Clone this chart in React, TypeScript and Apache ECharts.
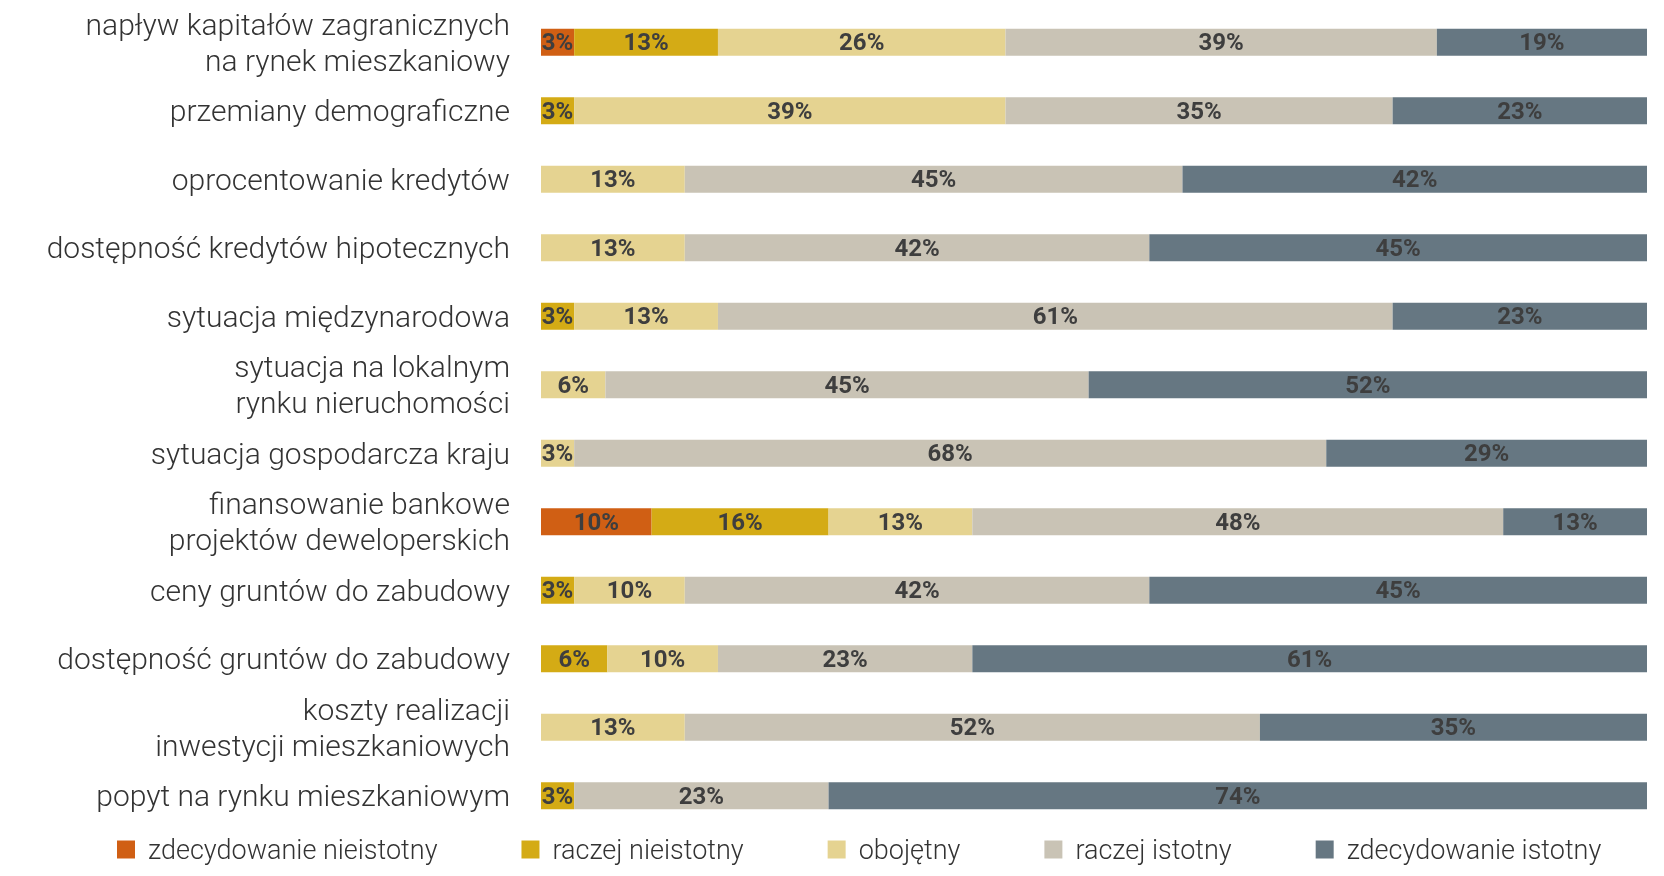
import React, { useEffect, useRef } from "react";
import * as echarts from "echarts";

const categories = [
  "napływ kapitałów zagranicznych\nna rynek mieszkaniowy",
  "przemiany demograficzne",
  "oprocentowanie kredytów",
  "dostępność kredytów hipotecznych",
  "sytuacja międzynarodowa",
  "sytuacja na lokalnym\nrynku nieruchomości",
  "sytuacja gospodarcza kraju",
  "finansowanie bankowe\nprojektów deweloperskich",
  "ceny gruntów do zabudowy",
  "dostępność gruntów do zabudowy",
  "koszty realizacji\ninwestycji mieszkaniowych",
  "popyt na rynku mieszkaniowym",
];

const seriesNames = [
  "zdecydowanie nieistotny",
  "raczej nieistotny",
  "obojętny",
  "raczej istotny",
  "zdecydowanie istotny",
];

const zdecydowanieNieistotny = [3, 0, 0, 0, 0, 0, 0, 10, 0, 0, 0, 0];
const raczejNieistotny = [13, 3, 0, 0, 3, 0, 0, 16, 3, 6, 0, 3];
const obojetny = [26, 39, 13, 13, 13, 6, 3, 13, 10, 10, 13, 0];
const raczejIstotny = [39, 35, 45, 42, 61, 45, 68, 48, 42, 23, 52, 23];
const zdecydowanieIstotny = [19, 23, 42, 45, 23, 52, 29, 13, 45, 61, 35, 74];

const seriesValues = [
  zdecydowanieNieistotny,
  raczejNieistotny,
  obojetny,
  raczejIstotny,
  zdecydowanieIstotny,
];

const colors = ["#D05F14", "#D4AB15", "#E5D391", "#C9C3B5", "#667782"];

export default function App() {
  const ref = useRef<HTMLDivElement>(null);

  useEffect(() => {
    if (!ref.current) return;
    const chart = echarts.init(ref.current, undefined, { renderer: "svg" });
    const totals = categories.map((_, i) =>
      seriesValues.reduce((s, arr) => s + arr[i], 0)
    );
    const series = seriesNames.map((name, si) => ({
      name,
      type: "bar",
      stack: "total",
      barWidth: 27,
      itemStyle: { color: colors[si] },
      label: {
        show: true,
        position: "inside",
        color: "#3e3e3e",
        fontFamily: "'Liberation Sans Narrow', Roboto, sans-serif",
        fontWeight: "bold",
        fontSize: 24,
        formatter: (p: any) => (p.data.raw > 0 ? p.data.raw + "%" : ""),
      },
      data: seriesValues[si].map((v, i) => ({
        value: (v / totals[i]) * 100,
        raw: v,
      })),
    }));

    chart.setOption({
      animation: false,
      color: colors,
      grid: { left: 541, right: 17, top: 8, bottom: 46, containLabel: false },
      xAxis: {
        type: "value",
        min: 0,
        max: 100,
        show: false,
      },
      yAxis: {
        type: "category",
        inverse: true,
        data: categories,
        axisLine: { show: false },
        axisTick: { show: false },
        axisLabel: {
          margin: 31,
          color: "#333333",
          fontFamily: "Roboto, sans-serif",
          fontWeight: 300,
          fontSize: 30,
          lineHeight: 36,
          align: "right",
        },
      },
      legend: {
        bottom: 8,
        left: 112,
        itemWidth: 18,
        itemHeight: 18,
        itemGap: 84,
        icon: "rect",
        textStyle: {
          color: "#333333",
          fontFamily: "Roboto, sans-serif",
          fontWeight: 300,
          fontSize: 27,
          padding: [0, 0, 0, 8],
        },
        data: seriesNames,
      },
      series,
    });

    return () => chart.dispose();
  }, []);

  return (
    <div
      ref={ref}
      style={{ position: "fixed", left: 0, top: 0, width: 1664, height: 876 }}
    />
  );
}
